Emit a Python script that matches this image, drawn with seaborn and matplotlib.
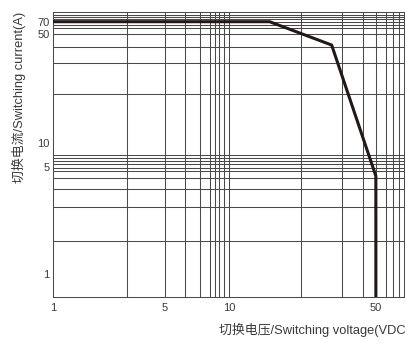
import numpy as np
import pandas as pd
import matplotlib
matplotlib.use('Agg')
from matplotlib import pyplot as plt
import seaborn as sns

# load curve (switching voltage vs. current)
voltage = [1, 15.6, 30.8, 50, 50]
current = [70, 70, 42.3, 4.35, 0.708]

# labelled ticks
x_ticks = [1, 5, 10, 50]
y_ticks = [1, 5, 10, 50, 70]

# unlabelled grid lines
x_grid = [2.9, 5, 6.2, 7.3, 8.15, 8.6, 9, 9.5, 10, 22.1, 34.4, 43.6, 50,
          55.6, 60.3, 64.4, 67.7]
y_grid = [1.63, 2.73, 3.56, 4.2, 4.69, 4.94, 5.41, 5.9, 6.52, 7.01,
          20.4, 32.3, 41.3, 50, 58.7, 64.4, 70, 74.9, 79.9, 85.2]

x_label = '切换电压/Switching voltage(VDC)'
y_label = '切换电流/Switching current(A)'

# the printed grid is not a true log grid: piecewise log scale,
# knots = labelled values, widths
x_knots = ([1, 5, 10, 50], [0, 111.5, 176, 322.8])
y_knots = ([1, 5, 10, 50, 70], [23, 130, 154, 263, 275])


def warped(knots):
    logs = np.log10(np.asarray(knots[0], float))
    pos = np.asarray(knots[1], float)

    def lin(u, a, b):
        out = np.interp(u, a, b)
        s0 = (b[1] - b[0]) / (a[1] - a[0])
        s1 = (b[-1] - b[-2]) / (a[-1] - a[-2])
        out = np.where(u < a[0], b[0] + (u - a[0]) * s0, out)
        out = np.where(u > a[-1], b[-1] + (u - a[-1]) * s1, out)
        return out

    def fwd(v):
        return lin(np.log10(np.clip(v, 1e-9, None)), logs, pos)

    def inv(t):
        return 10 ** lin(np.asarray(t, float), pos, logs)

    return fwd, inv


sns.set_theme(style='white')
plt.rcParams['font.family'] = ['Liberation Sans', 'Noto Sans CJK SC', 'DejaVu Sans']

fig = plt.figure(figsize=(4.06, 3.44), dpi=100)
ax = fig.add_axes([53 / 406, 47.3 / 344, 352.5 / 406, 284.4 / 344])

ax.set_xscale('function', functions=warped(x_knots))
ax.set_yscale('function', functions=warped(y_knots))

df = pd.DataFrame({'V': voltage, 'I': current})
sns.lineplot(data=df, x='V', y='I', sort=False, estimator=None,
             color='#231815', lw=2.2, ax=ax, zorder=5)

ax.set_xlim(1, 69.2)
ax.set_ylim(0.708, 91.1)

grid_c = '#4a4a4a'
ax.set_xticks(x_ticks)
ax.set_xticklabels([str(v) for v in x_ticks])
ax.set_yticks(y_ticks)
ax.set_yticklabels([str(v) for v in y_ticks])
ax.set_xticks(x_grid, minor=True)
ax.set_yticks(y_grid, minor=True)
ax.xaxis.remove_overlapping_locs = False
ax.yaxis.remove_overlapping_locs = False
ax.grid(False)
ax.grid(which='minor', color=grid_c, lw=0.75)
ax.tick_params(which='both', length=0, labelsize=8, colors='#3a3a3a')
ax.tick_params(axis='x', pad=4.5)
ax.tick_params(axis='y', pad=2.5)
ax.set_xlabel('')
ax.set_ylabel('')

for side in ['left', 'bottom', 'top']:
    ax.spines[side].set_color(grid_c)
    ax.spines[side].set_linewidth(0.75)
ax.spines['right'].set_visible(False)

fig.text(219 / 406, 1 - 330 / 344, x_label, ha='left', va='center',
         fontsize=9.3, color='#3a3a3a')
fig.text(19 / 406, 1 - 97 / 344, y_label, ha='center', va='center',
         rotation=90, fontsize=9.3, color='#3a3a3a')

fig.savefig('out.png', dpi=100)
